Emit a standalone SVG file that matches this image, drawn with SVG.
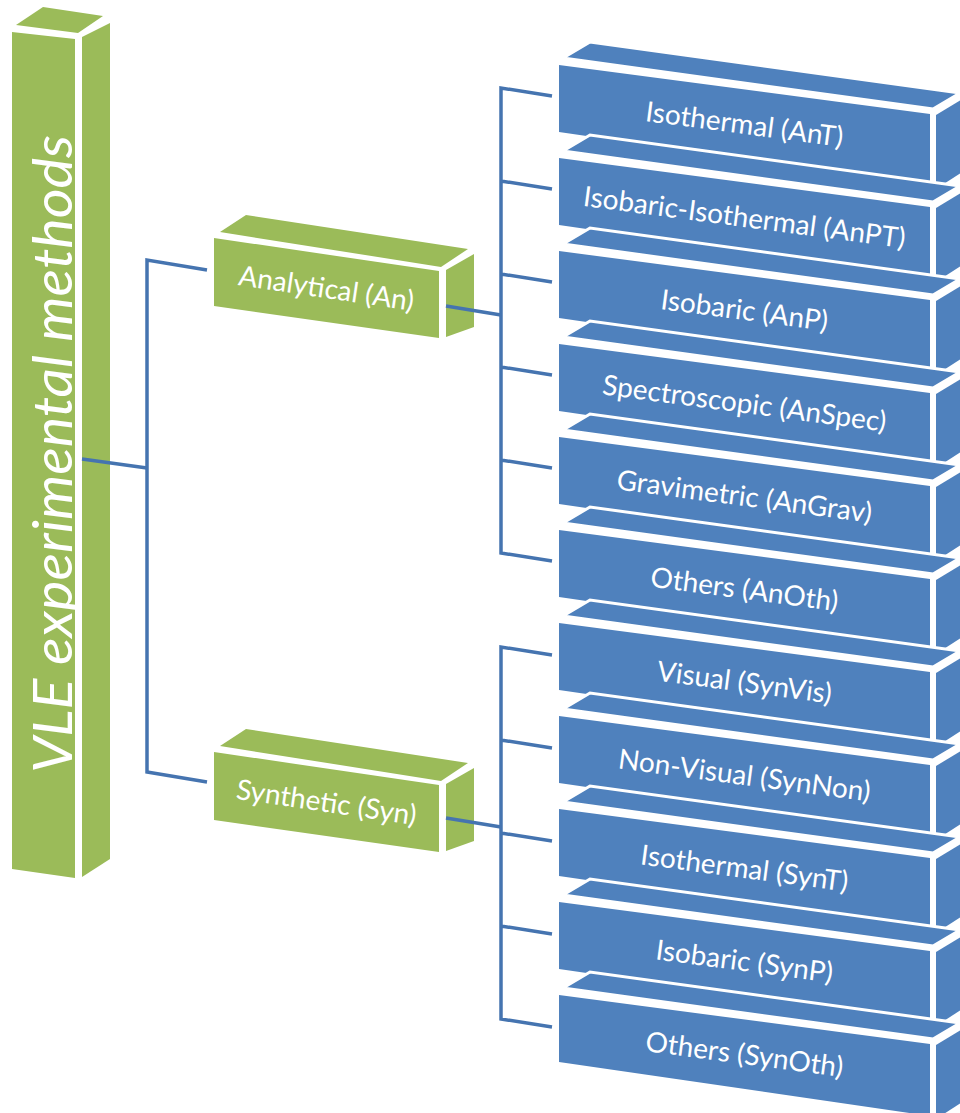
<svg xmlns="http://www.w3.org/2000/svg" xmlns:xlink="http://www.w3.org/1999/xlink" width="960" height="1113" viewBox="0 0 960 1113">
<style>
.g{fill:#9BBB59}
.b{fill:#4F81BD}
.tp{stroke:#fff;stroke-width:3}
.lbl{font-family:Lato,"Liberation Sans",sans-serif;font-size:28px;fill:#fff;text-anchor:middle}
.title{font-family:Lato,"Liberation Sans",sans-serif;font-size:54px;font-style:italic;fill:#fff;text-anchor:middle}
.conn{fill:none;stroke:#4574B0;stroke-width:3.5;stroke-linejoin:miter;stroke-linecap:butt}
</style>
<defs>
<g id="bluebox">
<polygon class="b tp" points="563,-7 590,-23 960,28 933,44"/>
<polygon class="b" points="559,0 930,49 930,121 559,67"/>
<polygon class="b" points="936,50 964,33 964,106 936,124"/>
</g>
<g id="greenbox">
<polygon class="g" points="220,-6 246,-23 468,11 441,29"/>
<polygon class="g" points="214,0 439,33 439,100 214,68"/>
<polygon class="g" points="446,32 474,16 474,89 446,99"/>
</g>
</defs>
<g id="vle">
<polygon class="g" points="16,25 43,7 103,16 78,33"/>
<polygon class="g" points="12,32 75,39 75,878 12,869"/>
<polygon class="g" points="82,37 110,23 110,859 82,877"/>
<text class="title" transform="translate(72,454) rotate(-90)" textLength="638" lengthAdjust="spacingAndGlyphs">VLE experimental methods</text>
</g>
<g id="an" transform="translate(0,238)"><use xlink:href="#greenbox"/><text class="lbl" transform="translate(326.5,50) rotate(8.4)" y="10">Analytical (An)</text></g>
<g id="syn" transform="translate(0,752)"><use xlink:href="#greenbox"/><text class="lbl" transform="translate(326.5,50) rotate(8.4)" y="10">Synthetic (Syn)</text></g>
<g id="ant" transform="translate(0,65)"><use xlink:href="#bluebox"/><text class="lbl" transform="translate(744.5,59) rotate(7.5)" y="10">Isothermal (AnT)</text></g>
<g id="anpt" transform="translate(0,158)"><use xlink:href="#bluebox"/><text class="lbl" transform="translate(744.5,59) rotate(7.5)" y="10">Isobaric-Isothermal (AnPT)</text></g>
<g id="anp" transform="translate(0,251)"><use xlink:href="#bluebox"/><text class="lbl" transform="translate(744.5,59) rotate(7.5)" y="10">Isobaric (AnP)</text></g>
<g id="anspec" transform="translate(0,344)"><use xlink:href="#bluebox"/><text class="lbl" transform="translate(744.5,59) rotate(7.5)" y="10">Spectroscopic (AnSpec)</text></g>
<g id="angrav" transform="translate(0,437)"><use xlink:href="#bluebox"/><text class="lbl" transform="translate(744.5,59) rotate(7.5)" y="10">Gravimetric (AnGrav)</text></g>
<g id="anoth" transform="translate(0,530)"><use xlink:href="#bluebox"/><text class="lbl" transform="translate(744.5,59) rotate(7.5)" y="10">Others (AnOth)</text></g>
<g id="synvis" transform="translate(0,623)"><use xlink:href="#bluebox"/><text class="lbl" transform="translate(744.5,59) rotate(7.5)" y="10">Visual (SynVis)</text></g>
<g id="synnon" transform="translate(0,716)"><use xlink:href="#bluebox"/><text class="lbl" transform="translate(744.5,59) rotate(7.5)" y="10">Non-Visual (SynNon)</text></g>
<g id="synt" transform="translate(0,809)"><use xlink:href="#bluebox"/><text class="lbl" transform="translate(744.5,59) rotate(7.5)" y="10">Isothermal (SynT)</text></g>
<g id="synp" transform="translate(0,902)"><use xlink:href="#bluebox"/><text class="lbl" transform="translate(744.5,59) rotate(7.5)" y="10">Isobaric (SynP)</text></g>
<g id="synoth" transform="translate(0,995)"><use xlink:href="#bluebox"/><text class="lbl" transform="translate(744.5,59) rotate(7.5)" y="10">Others (SynOth)</text></g>
<g id="connectors" class="conn">
<path d="M82,459 L147,468"/>
<path d="M207,270 L147,260 L147,772 L207,782"/>
<path d="M446,306 L501,315"/>
<path d="M552,96 L501,88 L501,553 L552,561 M501,181 L552,189 M501,274 L552,282 M501,367 L552,375 M501,460 L552,468"/>
<path d="M446,818 L501,827"/>
<path d="M552,655 L501,647 L501,1019 L552,1027 M501,740 L552,748 M501,833 L552,841 M501,926 L552,934"/>
</g>
</svg>
